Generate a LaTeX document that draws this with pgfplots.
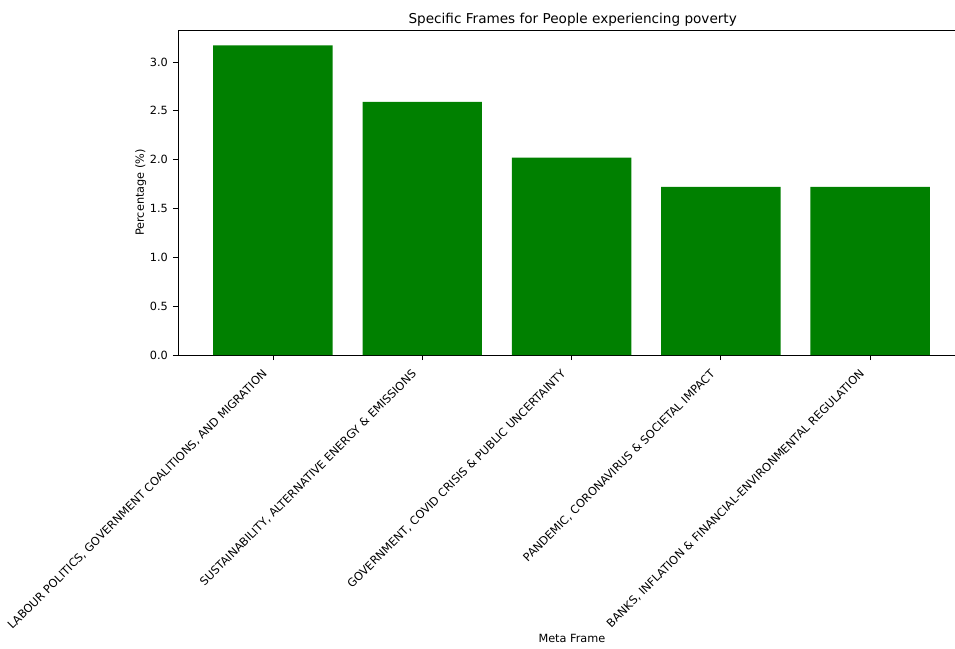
\documentclass[border=0pt]{standalone}
\usepackage{pgfplots}
\pgfplotsset{compat=1.18}
\usetikzlibrary{calc}
\usepackage{fontspec}
\setmainfont{DejaVu Sans}
\definecolor{mplgreen}{HTML}{008000}
\begin{document}
\begin{tikzpicture}
\begin{axis}[
  name=ax,
  scale only axis,
  width=777pt, height=325pt,
  xmin=-0.636, xmax=4.568,
  ymin=0, ymax=3.327,
  axis x line=box, axis y line=left,
  axis line style={-, black, line width=0.8pt},
  xtick pos=bottom,
  xtick={0,1,2,3,4},
  xticklabels={LABOUR POLITICS{,} GOVERNMENT COALITIONS{,} AND MIGRATION,
               SUSTAINABILITY{,} ALTERNATIVE ENERGY \& EMISSIONS,
               GOVERNMENT{,} COVID CRISIS \& PUBLIC UNCERTAINTY,
               PANDEMIC{,} CORONAVIRUS \& SOCIETAL IMPACT,
               BANKS{,} INFLATION \& FINANCIAL-ENVIRONMENTAL REGULATION},
  ytick={0,0.5,1,1.5,2,2.5,3},
  yticklabels={0.0,0.5,1.0,1.5,2.0,2.5,3.0},
  tick style={black, line width=0.8pt},
  major tick length=5pt,
  tick align=outside,
  ticklabel style={font=\fontsize{11.3}{13}\selectfont},
  xticklabel style={rotate=45, anchor=north east, inner sep=0pt, xshift=-14pt, yshift=2pt},
  yticklabel style={inner sep=0pt, xshift=-5pt},
  title={Specific Frames for People experiencing poverty},
  title style={font=\fontsize{13.6}{16}\selectfont, at={(axis description cs:0.508,1)}, yshift=-6pt},
  xlabel={Meta Frame},
  ylabel={Percentage (\%)},
  label style={font=\fontsize{11.3}{13}\selectfont},
  xlabel style={at={(axis description cs:0.507,0)}, anchor=center, yshift=-283pt},
]
\addplot[ybar, bar width=0.8, fill=mplgreen, draw=none] coordinates {
  (0,3.17) (1,2.59) (2,2.02) (3,1.72) (4,1.72)
};
\end{axis}
\pgfresetboundingbox
\path[use as bounding box] ($(ax.south west)+(-178pt,-293pt)$) rectangle ($(ax.north east)+(0pt,30pt)$);
\end{tikzpicture}
\end{document}
